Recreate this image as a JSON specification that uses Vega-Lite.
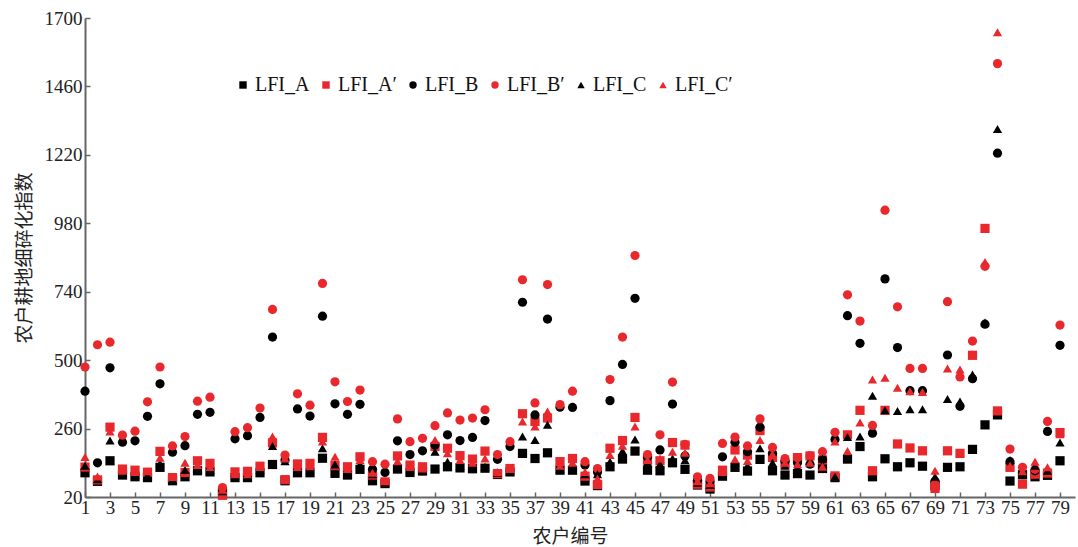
{
"$schema":"https://vega.github.io/schema/vega-lite/v6.json",
"width":990,"height":479,
"autosize":{"type":"none"},
"padding":{"left":85,"top":18,"right":3,"bottom":50},
"background":"white",
"config":{"view":{"stroke":null},"font":"Liberation Serif"},
"datasets":{"pts":[
{"n":1,"s":"LFI_A","v":105},{"n":2,"s":"LFI_A","v":75},{"n":3,"s":"LFI_A","v":147},{"n":4,"s":"LFI_A","v":97},{"n":5,"s":"LFI_A","v":91},{"n":6,"s":"LFI_A","v":88},{"n":7,"s":"LFI_A","v":124},{"n":8,"s":"LFI_A","v":77},{"n":9,"s":"LFI_A","v":91},{"n":10,"s":"LFI_A","v":112},
{"n":11,"s":"LFI_A","v":108},{"n":12,"s":"LFI_A","v":35},{"n":13,"s":"LFI_A","v":88},{"n":14,"s":"LFI_A","v":88},{"n":15,"s":"LFI_A","v":105},{"n":16,"s":"LFI_A","v":134},{"n":17,"s":"LFI_A","v":77},{"n":18,"s":"LFI_A","v":105},{"n":19,"s":"LFI_A","v":105},{"n":20,"s":"LFI_A","v":156},
{"n":21,"s":"LFI_A","v":103},{"n":22,"s":"LFI_A","v":97},{"n":23,"s":"LFI_A","v":117},{"n":24,"s":"LFI_A","v":77},{"n":25,"s":"LFI_A","v":67},{"n":26,"s":"LFI_A","v":118},{"n":27,"s":"LFI_A","v":106},{"n":28,"s":"LFI_A","v":111},{"n":29,"s":"LFI_A","v":118},{"n":30,"s":"LFI_A","v":126},
{"n":31,"s":"LFI_A","v":122},{"n":32,"s":"LFI_A","v":119},{"n":33,"s":"LFI_A","v":121},{"n":34,"s":"LFI_A","v":99},{"n":35,"s":"LFI_A","v":108},{"n":36,"s":"LFI_A","v":173},{"n":37,"s":"LFI_A","v":155},{"n":38,"s":"LFI_A","v":175},{"n":39,"s":"LFI_A","v":114},{"n":40,"s":"LFI_A","v":114},
{"n":41,"s":"LFI_A","v":76},{"n":42,"s":"LFI_A","v":60},{"n":43,"s":"LFI_A","v":126},{"n":44,"s":"LFI_A","v":153},{"n":45,"s":"LFI_A","v":181},{"n":46,"s":"LFI_A","v":114},{"n":47,"s":"LFI_A","v":112},{"n":48,"s":"LFI_A","v":140},{"n":49,"s":"LFI_A","v":117},{"n":50,"s":"LFI_A","v":62},
{"n":51,"s":"LFI_A","v":48},{"n":52,"s":"LFI_A","v":93},{"n":53,"s":"LFI_A","v":124},{"n":54,"s":"LFI_A","v":111},{"n":55,"s":"LFI_A","v":152},{"n":56,"s":"LFI_A","v":112},{"n":57,"s":"LFI_A","v":97},{"n":58,"s":"LFI_A","v":102},{"n":59,"s":"LFI_A","v":97},{"n":60,"s":"LFI_A","v":120},
{"n":61,"s":"LFI_A","v":88},{"n":62,"s":"LFI_A","v":153},{"n":63,"s":"LFI_A","v":197},{"n":64,"s":"LFI_A","v":91},{"n":65,"s":"LFI_A","v":154},{"n":66,"s":"LFI_A","v":126},{"n":67,"s":"LFI_A","v":140},{"n":68,"s":"LFI_A","v":128},{"n":69,"s":"LFI_A","v":60},{"n":70,"s":"LFI_A","v":124},
{"n":71,"s":"LFI_A","v":126},{"n":72,"s":"LFI_A","v":187},{"n":73,"s":"LFI_A","v":273},{"n":74,"s":"LFI_A","v":308},{"n":75,"s":"LFI_A","v":76},{"n":76,"s":"LFI_A","v":98},{"n":77,"s":"LFI_A","v":91},{"n":78,"s":"LFI_A","v":96},{"n":79,"s":"LFI_A","v":147},
{"n":1,"s":"LFI_A′","v":125},{"n":2,"s":"LFI_A′","v":80},{"n":3,"s":"LFI_A′","v":265},{"n":4,"s":"LFI_A′","v":118},{"n":5,"s":"LFI_A′","v":114},{"n":6,"s":"LFI_A′","v":107},{"n":7,"s":"LFI_A′","v":180},{"n":8,"s":"LFI_A′","v":88},{"n":9,"s":"LFI_A′","v":106},{"n":10,"s":"LFI_A′","v":147},
{"n":11,"s":"LFI_A′","v":138},{"n":12,"s":"LFI_A′","v":26},{"n":13,"s":"LFI_A′","v":108},{"n":14,"s":"LFI_A′","v":110},{"n":15,"s":"LFI_A′","v":128},{"n":16,"s":"LFI_A′","v":210},{"n":17,"s":"LFI_A′","v":81},{"n":18,"s":"LFI_A′","v":136},{"n":19,"s":"LFI_A′","v":138},{"n":20,"s":"LFI_A′","v":229},
{"n":21,"s":"LFI_A′","v":130},{"n":22,"s":"LFI_A′","v":126},{"n":23,"s":"LFI_A′","v":161},{"n":24,"s":"LFI_A′","v":97},{"n":25,"s":"LFI_A′","v":73},{"n":26,"s":"LFI_A′","v":164},{"n":27,"s":"LFI_A′","v":132},{"n":28,"s":"LFI_A′","v":126},{"n":29,"s":"LFI_A′","v":197},{"n":30,"s":"LFI_A′","v":191},
{"n":31,"s":"LFI_A′","v":165},{"n":32,"s":"LFI_A′","v":153},{"n":33,"s":"LFI_A′","v":181},{"n":34,"s":"LFI_A′","v":102},{"n":35,"s":"LFI_A′","v":120},{"n":36,"s":"LFI_A′","v":312},{"n":37,"s":"LFI_A′","v":285},{"n":38,"s":"LFI_A′","v":297},{"n":39,"s":"LFI_A′","v":144},{"n":40,"s":"LFI_A′","v":155},
{"n":41,"s":"LFI_A′","v":93},{"n":42,"s":"LFI_A′","v":64},{"n":43,"s":"LFI_A′","v":191},{"n":44,"s":"LFI_A′","v":218},{"n":45,"s":"LFI_A′","v":299},{"n":46,"s":"LFI_A′","v":149},{"n":47,"s":"LFI_A′","v":147},{"n":48,"s":"LFI_A′","v":211},{"n":49,"s":"LFI_A′","v":202},{"n":50,"s":"LFI_A′","v":65},
{"n":51,"s":"LFI_A′","v":55},{"n":52,"s":"LFI_A′","v":114},{"n":53,"s":"LFI_A′","v":185},{"n":54,"s":"LFI_A′","v":167},{"n":55,"s":"LFI_A′","v":253},{"n":56,"s":"LFI_A′","v":159},{"n":57,"s":"LFI_A′","v":135},{"n":58,"s":"LFI_A′","v":158},{"n":59,"s":"LFI_A′","v":164},{"n":60,"s":"LFI_A′","v":150},
{"n":61,"s":"LFI_A′","v":94},{"n":62,"s":"LFI_A′","v":238},{"n":63,"s":"LFI_A′","v":324},{"n":64,"s":"LFI_A′","v":112},{"n":65,"s":"LFI_A′","v":324},{"n":66,"s":"LFI_A′","v":206},{"n":67,"s":"LFI_A′","v":192},{"n":68,"s":"LFI_A′","v":182},{"n":69,"s":"LFI_A′","v":50},{"n":70,"s":"LFI_A′","v":182},
{"n":71,"s":"LFI_A′","v":173},{"n":72,"s":"LFI_A′","v":517},{"n":73,"s":"LFI_A′","v":962},{"n":74,"s":"LFI_A′","v":322},{"n":75,"s":"LFI_A′","v":124},{"n":76,"s":"LFI_A′","v":65},{"n":77,"s":"LFI_A′","v":100},{"n":78,"s":"LFI_A′","v":104},{"n":79,"s":"LFI_A′","v":246},
{"n":1,"s":"LFI_B","v":391},{"n":2,"s":"LFI_B","v":140},{"n":3,"s":"LFI_B","v":473},{"n":4,"s":"LFI_B","v":212},{"n":5,"s":"LFI_B","v":217},{"n":6,"s":"LFI_B","v":303},{"n":7,"s":"LFI_B","v":417},{"n":8,"s":"LFI_B","v":177},{"n":9,"s":"LFI_B","v":200},{"n":10,"s":"LFI_B","v":310},
{"n":11,"s":"LFI_B","v":317},{"n":12,"s":"LFI_B","v":45},{"n":13,"s":"LFI_B","v":224},{"n":14,"s":"LFI_B","v":235},{"n":15,"s":"LFI_B","v":299},{"n":16,"s":"LFI_B","v":581},{"n":17,"s":"LFI_B","v":150},{"n":18,"s":"LFI_B","v":329},{"n":19,"s":"LFI_B","v":304},{"n":20,"s":"LFI_B","v":654},
{"n":21,"s":"LFI_B","v":347},{"n":22,"s":"LFI_B","v":310},{"n":23,"s":"LFI_B","v":345},{"n":24,"s":"LFI_B","v":117},{"n":25,"s":"LFI_B","v":106},{"n":26,"s":"LFI_B","v":217},{"n":27,"s":"LFI_B","v":169},{"n":28,"s":"LFI_B","v":182},{"n":29,"s":"LFI_B","v":202},{"n":30,"s":"LFI_B","v":238},
{"n":31,"s":"LFI_B","v":218},{"n":32,"s":"LFI_B","v":229},{"n":33,"s":"LFI_B","v":288},{"n":34,"s":"LFI_B","v":152},{"n":35,"s":"LFI_B","v":197},{"n":36,"s":"LFI_B","v":703},{"n":37,"s":"LFI_B","v":308},{"n":38,"s":"LFI_B","v":644},{"n":39,"s":"LFI_B","v":335},{"n":40,"s":"LFI_B","v":334},
{"n":41,"s":"LFI_B","v":132},{"n":42,"s":"LFI_B","v":108},{"n":43,"s":"LFI_B","v":358},{"n":44,"s":"LFI_B","v":485},{"n":45,"s":"LFI_B","v":717},{"n":46,"s":"LFI_B","v":160},{"n":47,"s":"LFI_B","v":185},{"n":48,"s":"LFI_B","v":346},{"n":49,"s":"LFI_B","v":164},{"n":50,"s":"LFI_B","v":79},
{"n":51,"s":"LFI_B","v":75},{"n":52,"s":"LFI_B","v":161},{"n":53,"s":"LFI_B","v":212},{"n":54,"s":"LFI_B","v":179},{"n":55,"s":"LFI_B","v":265},{"n":56,"s":"LFI_B","v":173},{"n":57,"s":"LFI_B","v":145},{"n":58,"s":"LFI_B","v":140},{"n":59,"s":"LFI_B","v":135},{"n":60,"s":"LFI_B","v":152},
{"n":61,"s":"LFI_B","v":222},{"n":62,"s":"LFI_B","v":656},{"n":63,"s":"LFI_B","v":559},{"n":64,"s":"LFI_B","v":244},{"n":65,"s":"LFI_B","v":785},{"n":66,"s":"LFI_B","v":544},{"n":67,"s":"LFI_B","v":393},{"n":68,"s":"LFI_B","v":393},{"n":69,"s":"LFI_B","v":75},{"n":70,"s":"LFI_B","v":518},
{"n":71,"s":"LFI_B","v":338},{"n":72,"s":"LFI_B","v":435},{"n":73,"s":"LFI_B","v":626},{"n":74,"s":"LFI_B","v":1226},{"n":75,"s":"LFI_B","v":144},{"n":76,"s":"LFI_B","v":105},{"n":77,"s":"LFI_B","v":112},{"n":78,"s":"LFI_B","v":250},{"n":79,"s":"LFI_B","v":552},
{"n":1,"s":"LFI_B′","v":476},{"n":2,"s":"LFI_B′","v":554},{"n":3,"s":"LFI_B′","v":563},{"n":4,"s":"LFI_B′","v":237},{"n":5,"s":"LFI_B′","v":251},{"n":6,"s":"LFI_B′","v":354},{"n":7,"s":"LFI_B′","v":476},{"n":8,"s":"LFI_B′","v":199},{"n":9,"s":"LFI_B′","v":232},{"n":10,"s":"LFI_B′","v":356},
{"n":11,"s":"LFI_B′","v":370},{"n":12,"s":"LFI_B′","v":53},{"n":13,"s":"LFI_B′","v":249},{"n":14,"s":"LFI_B′","v":263},{"n":15,"s":"LFI_B′","v":332},{"n":16,"s":"LFI_B′","v":678},{"n":17,"s":"LFI_B′","v":167},{"n":18,"s":"LFI_B′","v":382},{"n":19,"s":"LFI_B′","v":342},{"n":20,"s":"LFI_B′","v":769},
{"n":21,"s":"LFI_B′","v":424},{"n":22,"s":"LFI_B′","v":355},{"n":23,"s":"LFI_B′","v":395},{"n":24,"s":"LFI_B′","v":144},{"n":25,"s":"LFI_B′","v":135},{"n":26,"s":"LFI_B′","v":294},{"n":27,"s":"LFI_B′","v":214},{"n":28,"s":"LFI_B′","v":226},{"n":29,"s":"LFI_B′","v":270},{"n":30,"s":"LFI_B′","v":315},
{"n":31,"s":"LFI_B′","v":290},{"n":32,"s":"LFI_B′","v":297},{"n":33,"s":"LFI_B′","v":326},{"n":34,"s":"LFI_B′","v":169},{"n":35,"s":"LFI_B′","v":214},{"n":36,"s":"LFI_B′","v":782},{"n":37,"s":"LFI_B′","v":350},{"n":38,"s":"LFI_B′","v":765},{"n":39,"s":"LFI_B′","v":344},{"n":40,"s":"LFI_B′","v":391},
{"n":41,"s":"LFI_B′","v":144},{"n":42,"s":"LFI_B′","v":120},{"n":43,"s":"LFI_B′","v":432},{"n":44,"s":"LFI_B′","v":581},{"n":45,"s":"LFI_B′","v":867},{"n":46,"s":"LFI_B′","v":169},{"n":47,"s":"LFI_B′","v":238},{"n":48,"s":"LFI_B′","v":423},{"n":49,"s":"LFI_B′","v":205},{"n":50,"s":"LFI_B′","v":91},
{"n":51,"s":"LFI_B′","v":85},{"n":52,"s":"LFI_B′","v":208},{"n":53,"s":"LFI_B′","v":230},{"n":54,"s":"LFI_B′","v":199},{"n":55,"s":"LFI_B′","v":294},{"n":56,"s":"LFI_B′","v":194},{"n":57,"s":"LFI_B′","v":155},{"n":58,"s":"LFI_B′","v":158},{"n":59,"s":"LFI_B′","v":164},{"n":60,"s":"LFI_B′","v":179},
{"n":61,"s":"LFI_B′","v":247},{"n":62,"s":"LFI_B′","v":729},{"n":63,"s":"LFI_B′","v":637},{"n":64,"s":"LFI_B′","v":271},{"n":65,"s":"LFI_B′","v":1026},{"n":66,"s":"LFI_B′","v":687},{"n":67,"s":"LFI_B′","v":471},{"n":68,"s":"LFI_B′","v":471},{"n":69,"s":"LFI_B′","v":65},{"n":70,"s":"LFI_B′","v":705},
{"n":71,"s":"LFI_B′","v":441},{"n":72,"s":"LFI_B′","v":567},{"n":73,"s":"LFI_B′","v":829},{"n":74,"s":"LFI_B′","v":1540},{"n":75,"s":"LFI_B′","v":188},{"n":76,"s":"LFI_B′","v":124},{"n":77,"s":"LFI_B′","v":117},{"n":78,"s":"LFI_B′","v":285},{"n":79,"s":"LFI_B′","v":623},
{"n":1,"s":"LFI_C","v":130},{"n":2,"s":"LFI_C","v":82},{"n":3,"s":"LFI_C","v":218},{"n":4,"s":"LFI_C","v":102},{"n":5,"s":"LFI_C","v":97},{"n":6,"s":"LFI_C","v":95},{"n":7,"s":"LFI_C","v":138},{"n":8,"s":"LFI_C","v":82},{"n":9,"s":"LFI_C","v":115},{"n":10,"s":"LFI_C","v":120},
{"n":11,"s":"LFI_C","v":115},{"n":12,"s":"LFI_C","v":40},{"n":13,"s":"LFI_C","v":95},{"n":14,"s":"LFI_C","v":95},{"n":15,"s":"LFI_C","v":115},{"n":16,"s":"LFI_C","v":199},{"n":17,"s":"LFI_C","v":145},{"n":18,"s":"LFI_C","v":115},{"n":19,"s":"LFI_C","v":115},{"n":20,"s":"LFI_C","v":191},
{"n":21,"s":"LFI_C","v":134},{"n":22,"s":"LFI_C","v":108},{"n":23,"s":"LFI_C","v":135},{"n":24,"s":"LFI_C","v":100},{"n":25,"s":"LFI_C","v":70},{"n":26,"s":"LFI_C","v":125},{"n":27,"s":"LFI_C","v":115},{"n":28,"s":"LFI_C","v":115},{"n":29,"s":"LFI_C","v":179},{"n":30,"s":"LFI_C","v":144},
{"n":31,"s":"LFI_C","v":130},{"n":32,"s":"LFI_C","v":125},{"n":33,"s":"LFI_C","v":126},{"n":34,"s":"LFI_C","v":105},{"n":35,"s":"LFI_C","v":110},{"n":36,"s":"LFI_C","v":232},{"n":37,"s":"LFI_C","v":220},{"n":38,"s":"LFI_C","v":273},{"n":39,"s":"LFI_C","v":120},{"n":40,"s":"LFI_C","v":126},
{"n":41,"s":"LFI_C","v":100},{"n":42,"s":"LFI_C","v":100},{"n":43,"s":"LFI_C","v":144},{"n":44,"s":"LFI_C","v":181},{"n":45,"s":"LFI_C","v":222},{"n":46,"s":"LFI_C","v":140},{"n":47,"s":"LFI_C","v":135},{"n":48,"s":"LFI_C","v":155},{"n":49,"s":"LFI_C","v":149},{"n":50,"s":"LFI_C","v":70},
{"n":51,"s":"LFI_C","v":62},{"n":52,"s":"LFI_C","v":100},{"n":53,"s":"LFI_C","v":140},{"n":54,"s":"LFI_C","v":130},{"n":55,"s":"LFI_C","v":191},{"n":56,"s":"LFI_C","v":140},{"n":57,"s":"LFI_C","v":130},{"n":58,"s":"LFI_C","v":125},{"n":59,"s":"LFI_C","v":138},{"n":60,"s":"LFI_C","v":155},
{"n":61,"s":"LFI_C","v":91},{"n":62,"s":"LFI_C","v":230},{"n":63,"s":"LFI_C","v":232},{"n":64,"s":"LFI_C","v":375},{"n":65,"s":"LFI_C","v":324},{"n":66,"s":"LFI_C","v":322},{"n":67,"s":"LFI_C","v":328},{"n":68,"s":"LFI_C","v":328},{"n":69,"s":"LFI_C","v":91},{"n":70,"s":"LFI_C","v":364},
{"n":71,"s":"LFI_C","v":355},{"n":72,"s":"LFI_C","v":450},{"n":73,"s":"LFI_C","v":632},{"n":74,"s":"LFI_C","v":1311},{"n":75,"s":"LFI_C","v":150},{"n":76,"s":"LFI_C","v":105},{"n":77,"s":"LFI_C","v":130},{"n":78,"s":"LFI_C","v":112},{"n":79,"s":"LFI_C","v":211},
{"n":1,"s":"LFI_C′","v":160},{"n":2,"s":"LFI_C′","v":92},{"n":3,"s":"LFI_C′","v":250},{"n":4,"s":"LFI_C′","v":112},{"n":5,"s":"LFI_C′","v":108},{"n":6,"s":"LFI_C′","v":110},{"n":7,"s":"LFI_C′","v":158},{"n":8,"s":"LFI_C′","v":90},{"n":9,"s":"LFI_C′","v":140},{"n":10,"s":"LFI_C′","v":132},
{"n":11,"s":"LFI_C′","v":125},{"n":12,"s":"LFI_C′","v":45},{"n":13,"s":"LFI_C′","v":100},{"n":14,"s":"LFI_C′","v":100},{"n":15,"s":"LFI_C′","v":125},{"n":16,"s":"LFI_C′","v":232},{"n":17,"s":"LFI_C′","v":155},{"n":18,"s":"LFI_C′","v":125},{"n":19,"s":"LFI_C′","v":128},{"n":20,"s":"LFI_C′","v":215},
{"n":21,"s":"LFI_C′","v":161},{"n":22,"s":"LFI_C′","v":118},{"n":23,"s":"LFI_C′","v":150},{"n":24,"s":"LFI_C′","v":105},{"n":25,"s":"LFI_C′","v":75},{"n":26,"s":"LFI_C′","v":145},{"n":27,"s":"LFI_C′","v":125},{"n":28,"s":"LFI_C′","v":120},{"n":29,"s":"LFI_C′","v":220},{"n":30,"s":"LFI_C′","v":173},
{"n":31,"s":"LFI_C′","v":150},{"n":32,"s":"LFI_C′","v":140},{"n":33,"s":"LFI_C′","v":155},{"n":34,"s":"LFI_C′","v":108},{"n":35,"s":"LFI_C′","v":118},{"n":36,"s":"LFI_C′","v":285},{"n":37,"s":"LFI_C′","v":267},{"n":38,"s":"LFI_C′","v":320},{"n":39,"s":"LFI_C′","v":130},{"n":40,"s":"LFI_C′","v":140},
{"n":41,"s":"LFI_C′","v":108},{"n":42,"s":"LFI_C′","v":85},{"n":43,"s":"LFI_C′","v":167},{"n":44,"s":"LFI_C′","v":200},{"n":45,"s":"LFI_C′","v":267},{"n":46,"s":"LFI_C′","v":150},{"n":47,"s":"LFI_C′","v":155},{"n":48,"s":"LFI_C′","v":179},{"n":49,"s":"LFI_C′","v":175},{"n":50,"s":"LFI_C′","v":75},
{"n":51,"s":"LFI_C′","v":68},{"n":52,"s":"LFI_C′","v":108},{"n":53,"s":"LFI_C′","v":152},{"n":54,"s":"LFI_C′","v":146},{"n":55,"s":"LFI_C′","v":220},{"n":56,"s":"LFI_C′","v":170},{"n":57,"s":"LFI_C′","v":140},{"n":58,"s":"LFI_C′","v":135},{"n":59,"s":"LFI_C′","v":140},{"n":60,"s":"LFI_C′","v":126},
{"n":61,"s":"LFI_C′","v":215},{"n":62,"s":"LFI_C′","v":181},{"n":63,"s":"LFI_C′","v":281},{"n":64,"s":"LFI_C′","v":432},{"n":65,"s":"LFI_C′","v":438},{"n":66,"s":"LFI_C′","v":403},{"n":67,"s":"LFI_C′","v":391},{"n":68,"s":"LFI_C′","v":388},{"n":69,"s":"LFI_C′","v":112},{"n":70,"s":"LFI_C′","v":471},
{"n":71,"s":"LFI_C′","v":467},{"n":72,"s":"LFI_C′","v":520},{"n":73,"s":"LFI_C′","v":844},{"n":74,"s":"LFI_C′","v":1650},{"n":75,"s":"LFI_C′","v":130},{"n":76,"s":"LFI_C′","v":110},{"n":77,"s":"LFI_C′","v":144},{"n":78,"s":"LFI_C′","v":124},{"n":79,"s":"LFI_C′","v":240}
]},
"data":{"name":"pts"},
"mark":{"type":"point","filled":true,"opacity":1,"size":85},
"encoding":{
"x":{"field":"n","type":"quantitative","scale":{"domain":[1,80.2],"nice":false,"zero":false},
"axis":{"title":"农户编号","values":[1,3,5,7,9,11,13,15,17,19,21,23,25,27,29,31,33,35,37,39,41,43,45,47,49,51,53,55,57,59,61,63,65,67,69,71,73,75,77,79],
"format":"d","grid":false,"tickSize":-5,"tickColor":"#666","tickWidth":1.5,"domainColor":"#666","domainWidth":2,
"labelFont":"Liberation Serif","labelFontSize":19,"labelColor":"#222","labelPadding":6,"labelFlush":false,"labelOverlap":false,
"titleFont":"Noto Sans CJK SC","titleFontSize":19,"titleFontWeight":"normal","titleColor":"#222","titlePadding":10,"titleX":485}},
"y":{"field":"v","type":"quantitative","scale":{"domain":[20,1700],"nice":false,"zero":false},
"axis":{"title":"农户耕地细碎化指数","values":[20,260,500,740,980,1220,1460,1700],
"format":"d","grid":false,"tickSize":-5,"tickColor":"#666","tickWidth":1.5,"domainColor":"#666","domainWidth":2,
"labelFont":"Liberation Serif","labelFontSize":19,"labelColor":"#222","labelPadding":8,"labelFlush":false,"labelOverlap":false,
"titleFont":"Noto Sans CJK SC","titleFontSize":19,"titleFontWeight":"normal","titleColor":"#222","titlePadding":10}},
"color":{"field":"s","type":"nominal","scale":{"domain":["LFI_A","LFI_A′","LFI_B","LFI_B′","LFI_C","LFI_C′"],"range":["#000000","#e8282c","#000000","#e8282c","#000000","#e8282c"]},
"legend":{"title":null,"orient":"none","legendX":148,"legendY":57,"direction":"horizontal","padding":0,"symbolSize":55,"symbolOpacity":1,"labelFont":"Liberation Serif","labelFontSize":20,"labelColor":"#111","labelOffset":2,"columnPadding":6,"labelLimit":200}},
"shape":{"field":"s","type":"nominal","scale":{"domain":["LFI_A","LFI_A′","LFI_B","LFI_B′","LFI_C","LFI_C′"],"range":["square","square","circle","circle","triangle-up","triangle-up"]},
"legend":{"title":null}}
}
}
